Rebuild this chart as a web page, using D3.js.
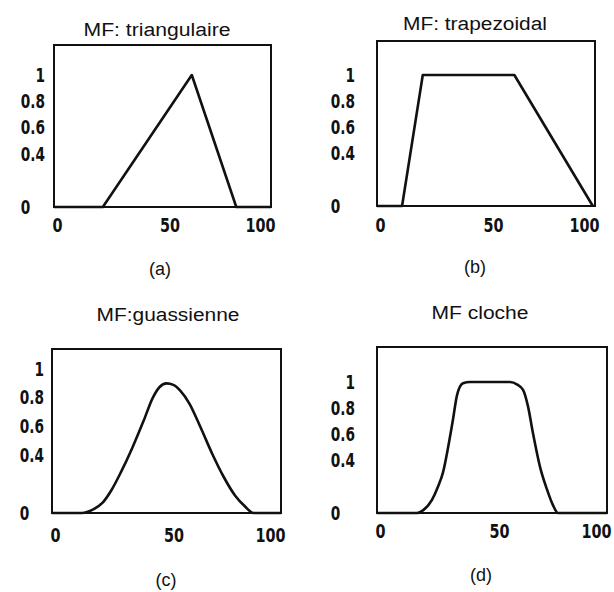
<!DOCTYPE html>
<html>
<head>
<meta charset="utf-8">
<script src="https://d3js.org/d3.v7.min.js"></script>
<style>
    body { margin: 0; background: #fff; }
    .title, .caption { font-family: "Liberation Sans", Arial, sans-serif; fill: #111; }
    .tick text { font-family: "DejaVu Sans", sans-serif; font-weight: bold; fill: #111; }
    .frame { fill: none; stroke: #111; stroke-width: 2; }
    .mf { fill: none; stroke: #111; stroke-width: 2.6; stroke-linejoin: round; }
</style>
</head>
<body>
<svg id="chart" width="614" height="592"></svg>
<script>
    // values
    const yTicks = [0, 0.4, 0.6, 0.8, 1];
    const xTicks = [0, 50, 100];

    const triX = [0, 22.5, 63.5, 84, 100];
    const triY = [0, 0, 1, 0, 0];

    const trapX = [0, 11.5, 21, 63, 99];
    const trapY = [0, 0, 1, 1, 0];

    const gaussX = [0, 13, 18, 22, 26, 30, 35, 40, 44, 47, 50, 53, 56, 60, 65, 70, 75, 80, 84, 88, 100];
    const gaussY = [0, 0, 0.025, 0.07, 0.16, 0.28, 0.45, 0.64, 0.8, 0.875, 0.9, 0.89, 0.85, 0.76, 0.59, 0.41, 0.25, 0.12, 0.05, 0, 0];

    const bellX = [0, 17.4, 20, 23.9, 26.5, 28.7, 30.9, 33, 34.8, 37.4, 40.4, 57.8, 61, 63.5, 65.7, 67.8, 70.9, 73.9, 76.5, 78.7, 100];
    const bellY = [0, 0, 0.02, 0.1, 0.2, 0.31, 0.5, 0.71, 0.9, 0.99, 1, 1, 0.98, 0.94, 0.81, 0.61, 0.35, 0.18, 0.06, 0, 0];

    const titles = ["MF: triangulaire", "MF: trapezoidal", "MF:guassienne", "MF cloche"];
    const captions = ["(a)", "(b)", "(c)", "(d)"];

    // layout of each panel (pixels)
    const panels = [
        { xs: triX, ys: triY, curve: d3.curveLinear, left: 54, right: 271, top: 45, bottom: 207, one: 75,
          yPad: 9, xPad: 11, tx: 157, ty: 36, tw: 147, cx: 160, cy: 275 },
        { xs: trapX, ys: trapY, curve: d3.curveLinear, left: 377, right: 595, top: 41, bottom: 206, one: 75,
          yPad: 22, xPad: 12, tx: 475, ty: 30, tw: 144, cx: 475, cy: 273 },
        { xs: gaussX, ys: gaussY, curve: d3.curveMonotoneX, left: 52, right: 281, top: 349, bottom: 513, one: 369,
          yPad: 8, xPad: 15, tx: 168, ty: 321, tw: 143, cx: 166, cy: 586 },
        { xs: bellX, ys: bellY, curve: d3.curveMonotoneX, left: 377, right: 607, top: 347, bottom: 513, one: 382,
          yPad: 22, xPad: 11, tx: 480, ty: 319, tw: 97, cx: 481, cy: 581 }
    ];

    const squeeze = 0.72; // the scanned tick digits are narrow

    function narrow(sel) {
        sel.each(function () {
            const len = this.getComputedTextLength();
            d3.select(this).attr("textLength", len * squeeze).attr("lengthAdjust", "spacingAndGlyphs");
        });
    }

    const svg = d3.select("#chart");
    svg.append("rect").attr("width", 614).attr("height", 592).attr("fill", "#fff");

    panels.forEach(function (p, i) {
        const g = svg.append("g");

        const x = d3.scaleLinear().domain([0, 100]).range([p.left, p.right]);
        const y = d3.scaleLinear().domain([0, 1]).range([p.bottom, p.one]);

        // y labels
        const ya = g.append("g")
            .attr("transform", "translate(" + p.left + ",0)")
            .call(d3.axisLeft(y).tickValues(yTicks).tickSize(0).tickPadding(p.yPad)
                .tickFormat(d3.format("")));
        ya.select(".domain").remove();
        ya.selectAll("text").style("font-size", "19px");
        const ref = ya.selectAll("text").filter(d => d === 0.8).node();
        const w = ref ? ref.getComputedTextLength() * squeeze : 20;
        narrow(ya.selectAll("text"));
        // "0" sits flush left with the decimals
        ya.selectAll("text").filter(d => d === 0)
            .attr("text-anchor", "start")
            .attr("x", -p.yPad - w);

        // x labels
        const xa = g.append("g")
            .attr("transform", "translate(0," + p.bottom + ")")
            .call(d3.axisBottom(x).tickValues(xTicks).tickSize(0).tickPadding(p.xPad));
        xa.select(".domain").remove();
        xa.selectAll("text").style("font-size", "20px")
            .attr("dx", d => d === 0 ? 3 : d === 50 ? 7 : -11);
        narrow(xa.selectAll("text"));

        // frame
        g.append("rect").attr("class", "frame")
            .attr("x", p.left).attr("y", p.top)
            .attr("width", p.right - p.left).attr("height", p.bottom - p.top);

        // membership function
        const line = d3.line()
            .x((d, k) => x(p.xs[k]))
            .y((d, k) => y(p.ys[k]))
            .curve(p.curve);
        g.append("path").attr("class", "mf").attr("d", line(p.xs));

        g.append("text").attr("class", "title")
            .attr("x", p.tx - p.tw / 2).attr("y", p.ty)
            .attr("textLength", p.tw).attr("lengthAdjust", "spacingAndGlyphs")
            .style("font-size", "18px")
            .text(titles[i]);

        g.append("text").attr("class", "caption")
            .attr("x", p.cx).attr("y", p.cy)
            .attr("text-anchor", "middle")
            .style("font-size", "18px")
            .text(captions[i]);
    });
</script>
</body>
</html>
